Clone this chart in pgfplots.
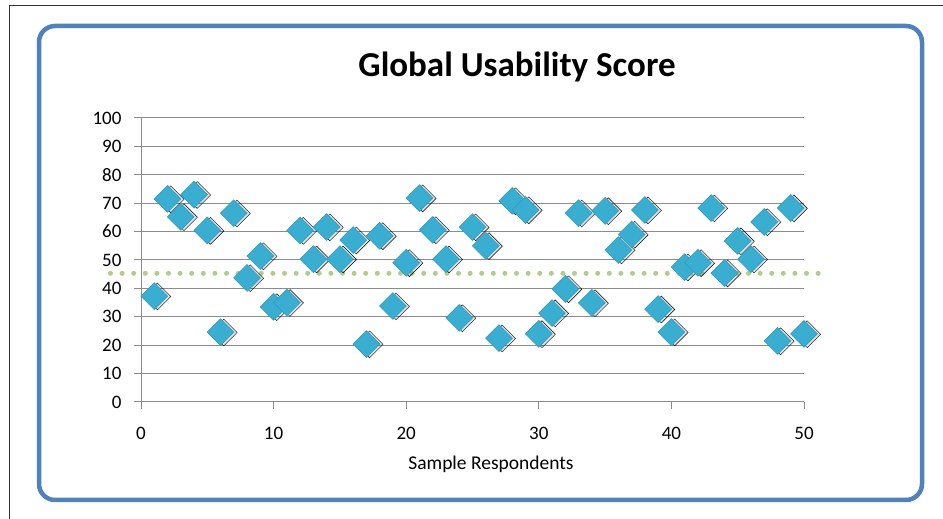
\documentclass[border=0pt]{standalone}
\usepackage{pgfplots}
\pgfplotsset{compat=1.18}
\usepackage{fontspec}
\setmainfont{Carlito}
\definecolor{boxblue}{HTML}{4F81BD}
\definecolor{mk}{HTML}{3AAED0}
\definecolor{mkd}{HTML}{2A98BC}
\definecolor{gridgray}{HTML}{8C8C8C}
\definecolor{dotgreen}{HTML}{AFCE8A}
\pgfplotstableread{
x y
1 37.3
2 71.5
3 65.2
4 73.0
5 60.4
6 24.6
7 66.5
8 43.7
9 51.4
10 33.5
11 35.0
12 60.4
13 50.3
14 61.6
15 50.3
16 57.0
17 20.4
18 58.5
19 33.8
20 49.0
21 71.8
22 60.6
23 50.3
24 29.6
25 61.6
26 55.0
27 22.5
28 70.8
29 67.6
30 24.0
31 31.3
32 39.8
33 66.5
34 34.9
35 67.3
36 53.5
37 59.0
38 67.6
39 32.7
40 24.6
41 47.5
42 49.0
43 68.3
44 45.4
45 56.7
46 50.3
47 63.4
48 21.5
49 68.3
50 24.0
}\scores
\begin{document}
\begin{tikzpicture}[x=1pt,y=1pt]
\path[use as bounding box] (0,0) rectangle (943,519);
\fill[white] (0,0) rectangle (943,519);
\draw[color=black!80, line width=1pt] (9.5,0) -- (9.5,513) -- (943,513);
\draw[boxblue, line width=4.5pt, rounded corners=16pt] (39,19) rectangle (922,493);
\node[font=\bfseries\fontsize{35}{38}\selectfont] at (517,452) {Global Usability Score};
\node[font=\fontsize{19.5}{22}\selectfont] at (491,55) {Sample Respondents};
\begin{axis}[
  at={(141pt,117pt)}, anchor=south west,
  scale only axis, width=663pt, height=284pt,
  xmin=0, xmax=50, ymin=0, ymax=100,
  xtick={0,10,...,50}, ytick={0,10,...,100},
  axis x line=bottom, axis y line=left,
  axis line style={gridgray, line width=1pt, -},
  ymajorgrids, grid style={gridgray, line width=1pt},
  tick style={gridgray, line width=1pt},
  tick align=outside, major tick length=7pt,
  tick label style={font=\fontsize{19}{21}\selectfont, text=black},
  /pgf/number format/assume math mode=true,
  xticklabel style={yshift=-15pt},
  yticklabel style={xshift=-9pt},
  clip=false,
]
\addplot[dotgreen, line width=5pt, line cap=round, dash pattern=on 0pt off 11.6pt] coordinates {(-2.3,45.3) (51.1,45.3)};
\addplot[only marks, mark=square*, mark size=9.5pt, mark options={rotate=45, fill=black, draw=none, fill opacity=0.12, xshift=2pt, yshift=-2.5pt}] table[x=x,y=y] {\scores};
\addplot[only marks, mark=square*, mark size=9.5pt, mark options={rotate=45, fill=mk, draw=mkd, line width=0.5pt}] table[x=x,y=y] {\scores};
\end{axis}
\end{tikzpicture}
\end{document}
